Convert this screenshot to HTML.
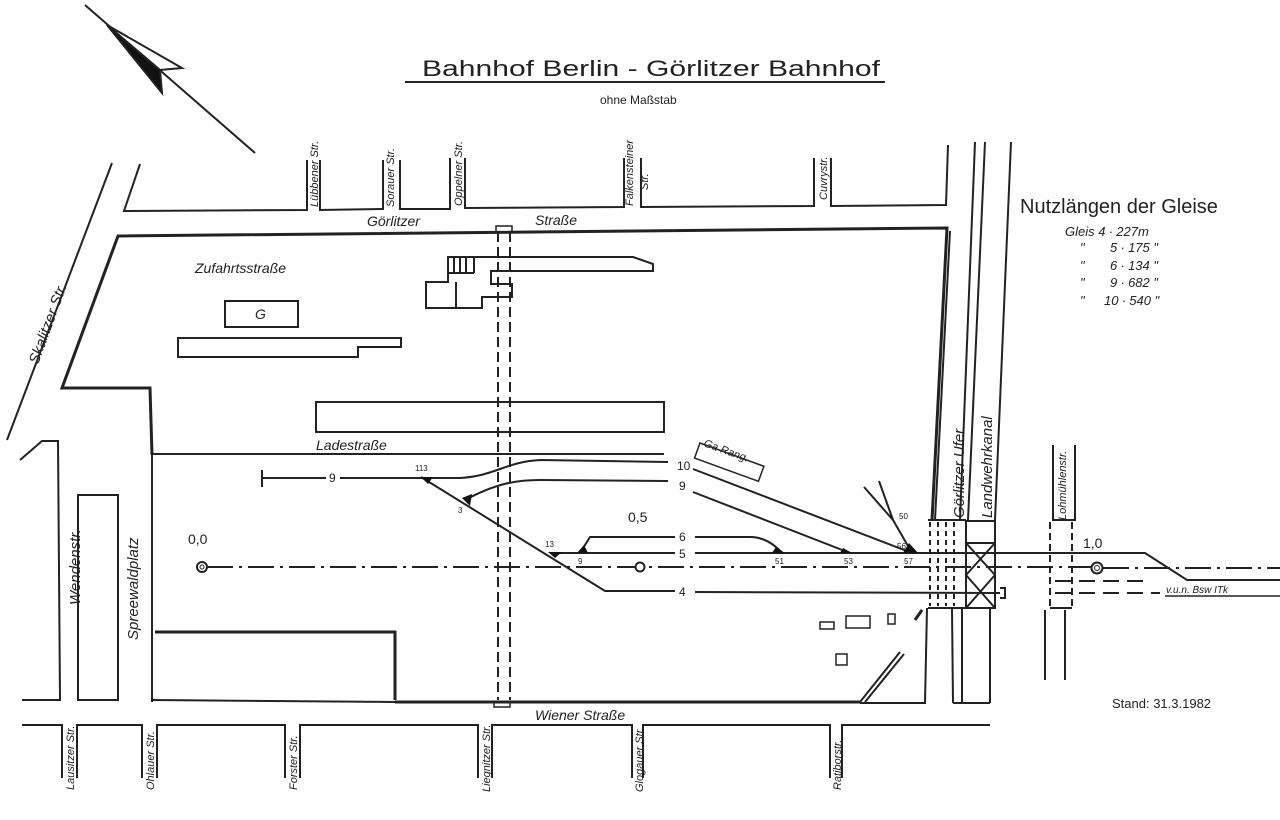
<!DOCTYPE html>
<html><head><meta charset="utf-8"><style>
html,body{margin:0;padding:0;background:#fff}
svg{display:block}
text{font-family:"Liberation Sans",sans-serif;fill:#222}
.i{font-style:italic}
</style></head><body>
<svg width="1280" height="820" viewBox="0 0 1280 820" xmlns="http://www.w3.org/2000/svg">
<g stroke="#222" fill="none" stroke-width="2">
<line x1="85" y1="5" x2="255" y2="153"/>
<polygon points="107,25 182,68 160,70" fill="#fff"/>
<polygon points="107,25 160,70 162,93" fill="#111"/>
<line x1="405" y1="82" x2="885" y2="82"/>

<polyline points="140,164 124,211 307,210 307,160"/>
<polyline points="320,160 320,210 383,209 383,160"/>
<polyline points="400,160 400,209 450,209 450,158"/>
<polyline points="465,158 465,208 624,207 624,158"/>
<polyline points="641,158 641,207 814,206 814,158"/>
<polyline points="831,158 831,206 946,205 948,145"/>
<line x1="112" y1="163" x2="7" y2="440"/>
<polyline points="932,520 947,228 118,236 62,388 150,388 152,455" stroke-width="3"/>
<polyline points="935,520 950,231"/>
<line x1="152" y1="455" x2="152" y2="702"/>
<line x1="152" y1="454" x2="664" y2="454"/>
<polyline points="20,460 42,441 58,441 60,700 22,700"/>
<rect x="78" y="495" width="40" height="205"/>
<polyline points="155,632 395,632 395,700" stroke-width="3"/>
<polyline points="152,700 395,702 860,702" />
<line x1="395" y1="702" x2="860" y2="702" stroke-width="3"/>
<line x1="860" y1="702" x2="900" y2="652"/>
<line x1="865" y1="702" x2="904" y2="654"/>
<polyline points="860,703 925,703 927,608"/>
<polyline points="22,725 62,725 62,778"/>
<polyline points="77,778 77,725 142,725 142,778"/>
<polyline points="157,778 157,725 285,725 285,778"/>
<polyline points="300,778 300,725 478,725 478,778"/>
<polyline points="492,778 492,725 632,725 632,778"/>
<polyline points="643,778 643,725 830,725 830,778"/>
<polyline points="842,778 842,725 990,725"/>
<line x1="975" y1="142" x2="960" y2="520"/>
<line x1="985" y1="142" x2="968" y2="520"/>
<line x1="1011" y1="142" x2="995" y2="520"/>
<line x1="952" y1="608" x2="953" y2="703"/>
<line x1="962" y1="608" x2="962" y2="703"/>
<line x1="990" y1="608" x2="990" y2="703"/>
<line x1="953" y1="703" x2="990" y2="703"/>
<rect x="966" y="521" width="29" height="22"/>
<rect x="966" y="543" width="29" height="65"/>
<line x1="966" y1="543" x2="995" y2="575"/><line x1="995" y1="543" x2="966" y2="575"/>
<line x1="966" y1="575" x2="995" y2="608"/><line x1="995" y1="575" x2="966" y2="608"/>
<line x1="928" y1="520" x2="966" y2="520"/>
<line x1="928" y1="608" x2="966" y2="608"/>
<g stroke-dasharray="5,4" stroke-width="2">
<line x1="930" y1="522" x2="930" y2="606"/><line x1="938" y1="522" x2="938" y2="606"/>
<line x1="946" y1="522" x2="946" y2="606"/><line x1="954" y1="522" x2="954" y2="606"/>
</g>
<polyline points="1053,445 1053,520 1075,520 1075,445"/>
<g stroke-dasharray="7,4">
<line x1="1050" y1="522" x2="1050" y2="608"/><line x1="1072" y1="522" x2="1072" y2="608"/>
</g>
<line x1="1050" y1="608" x2="1072" y2="608"/>
<line x1="1045" y1="610" x2="1045" y2="680"/><line x1="1065" y1="610" x2="1065" y2="680"/>
<g stroke-dasharray="10,5">
<line x1="498" y1="232" x2="498" y2="700"/><line x1="510" y1="232" x2="510" y2="700"/>
</g>
<rect x="496" y="226" width="16" height="6" stroke-width="1.5"/>
<rect x="494" y="702" width="16" height="5" stroke-width="1.5"/>
<path d="M448,257 H633 L653,264 V271 H491 V284 H512 V297 H482 V308 H426 V282 H448 Z"/>
<line x1="456" y1="282" x2="456" y2="308"/>
<line x1="448" y1="273" x2="474" y2="273"/>
<path d="M474,257 V273 M454,257 V273 M460,257 V273 M466,257 V273"/>
<rect x="225" y="301" width="73" height="26"/>
<path d="M178,338 H401 V347 H358 V357 H178 Z"/>
<rect x="316" y="402" width="348" height="30"/>
<rect x="820" y="622" width="14" height="7" stroke-width="1.5"/>
<rect x="846" y="616" width="24" height="12" stroke-width="1.5"/>
<rect x="888" y="614" width="7" height="10" stroke-width="1.5"/>
<rect x="836" y="654" width="11" height="11" stroke-width="1.5"/>
<line x1="915" y1="620" x2="922" y2="610" stroke-width="3"/>
<polyline points="262,470 262,487"/><line x1="262" y1="478" x2="326" y2="478"/>
<line x1="340" y1="478" x2="460" y2="478"/>
<path d="M460,478 C495,476 505,462 540,460 L668,462"/>
<line x1="693" y1="469" x2="912" y2="553"/>
<path d="M465,500 C495,484 515,480 540,480 L668,481"/>
<line x1="693" y1="492" x2="850" y2="553"/>
<polyline points="421,477 605,591 675,591"/>
<line x1="695" y1="592" x2="1000" y2="593"/>
<path d="M1000,588 H1005 V598 H1000"/>
<polyline points="551,553 675,553"/>
<polyline points="695,553 1145,553 1187,580 1280,580"/>
<path d="M580,553 L590,537 H675"/>
<path d="M695,537 H750 C765,537 775,545 782,553"/>
<polyline points="864,487 893,520 912,553"/>
<line x1="879" y1="481" x2="893" y2="520"/>
<g stroke-dasharray="26,6,3,6">
<line x1="207" y1="567" x2="1092" y2="567"/>
<line x1="1103" y1="568" x2="1280" y2="568"/>
</g>
<g stroke-dasharray="16,8">
<line x1="1055" y1="581" x2="1150" y2="581"/>
<line x1="1055" y1="593" x2="1160" y2="593"/>
</g>
<circle cx="202" cy="567" r="5"/><circle cx="202" cy="567" r="2" stroke-width="1"/>
<circle cx="640" cy="567" r="4.5" fill="#fff"/>
<circle cx="1097" cy="568" r="5.5"/><circle cx="1097" cy="568" r="2.5" stroke-width="1"/>
<g transform="translate(700,443) rotate(20)"><rect x="0" y="0" width="68" height="16" stroke-width="1.5"/></g>
<line x1="1165" y1="596" x2="1280" y2="596" stroke-width="1.5"/>
</g>
<g fill="#111">
<polygon points="421,477 433,477 428,484"/>
<polygon points="462,498 472,494 470,506"/>
<polygon points="548,552 562,552 555,558"/>
<polygon points="577,553 588,553 584,545"/>
<polygon points="772,553 785,553 776,547"/>
<polygon points="840,553 852,553 843,548"/>
<polygon points="903,553 918,553 909,543"/>
</g>
<text x="422" y="76" font-size="22" textLength="458" lengthAdjust="spacingAndGlyphs">Bahnhof  Berlin - Görlitzer Bahnhof</text>
<text x="600" y="104" font-size="12">ohne Maßstab</text>
<text x="1020" y="213" font-size="20">Nutzlängen der Gleise</text>
<g class="i" font-size="13">
<text x="1065" y="236">Gleis  4 ∙ 227m</text>
<text x="1080" y="252">"</text><text x="1110" y="252">5 ∙ 175 "</text>
<text x="1080" y="270">"</text><text x="1110" y="270">6 ∙ 134 "</text>
<text x="1080" y="287">"</text><text x="1110" y="287">9 ∙ 682 "</text>
<text x="1080" y="305">"</text><text x="1104" y="305">10 ∙ 540 "</text>
</g>
<text x="1112" y="708" font-size="13">Stand: 31.3.1982</text>
<g class="i" font-size="14">
<text x="367" y="226">Görlitzer</text>
<text x="535" y="225">Straße</text>
<text x="195" y="273">Zufahrtsstraße</text>
<text x="255" y="319">G</text>
<text x="316" y="450">Ladestraße</text>
<text x="535" y="720">Wiener  Straße</text>
</g>
<g class="i" font-size="11">
<text transform="translate(703,446) rotate(20)">Ga Rang.</text>
<text x="1166" y="593" font-size="10">v.u.n. Bsw ITk</text>
</g>
<g font-size="14">
<text x="188" y="544">0,0</text>
<text x="628" y="522">0,5</text>
<text x="1083" y="548">1,0</text>
</g>
<g font-size="12">
<text x="677" y="470">10</text><text x="679" y="490">9</text>
<text x="679" y="541">6</text><text x="679" y="558">5</text><text x="679" y="596">4</text>
<text x="329" y="482">9</text>
</g>
<g font-size="8">
<text x="415" y="471">113</text><text x="458" y="513">3</text><text x="545" y="547">13</text>
<text x="578" y="564">9</text><text x="775" y="564">51</text><text x="844" y="564">53</text>
<text x="904" y="564">57</text><text x="897" y="549">56</text><text x="899" y="519">50</text>
</g>
<g class="i" font-size="11">
<text transform="translate(318,207) rotate(-90)">Lübbener Str.</text>
<text transform="translate(394,207) rotate(-90)">Sorauer Str.</text>
<text transform="translate(462,206) rotate(-90)">Oppelner Str.</text>
<text transform="translate(633,206) rotate(-90)">Falkensteiner</text>
<text transform="translate(648,190) rotate(-90)">Str.</text>
<text transform="translate(827,200) rotate(-90)">Cuvrystr.</text>
<text transform="translate(74,790) rotate(-90)">Lausitzer Str.</text>
<text transform="translate(154,790) rotate(-90)">Ohlauer Str.</text>
<text transform="translate(297,790) rotate(-90)">Forster Str.</text>
<text transform="translate(490,792) rotate(-90)">Liegnitzer Str.</text>
<text transform="translate(643,792) rotate(-90)">Glogauer Str.</text>
<text transform="translate(841,790) rotate(-90)">Ratiborstr.</text>
<text transform="translate(1066,520) rotate(-90)">Lohmühlenstr.</text>
</g>
<g class="i" font-size="15">
<text transform="translate(80,605) rotate(-90)">Wendenstr.</text>
<text transform="translate(138,640) rotate(-90)">Spreewaldplatz</text>
<text transform="translate(964,518) rotate(-90)">Görlitzer Ufer</text>
<text transform="translate(992,518) rotate(-90)">Landwehrkanal</text>
<text transform="translate(38,365) rotate(-70)">Skalitzer Str.</text>
</g>
</svg>
</body></html>
